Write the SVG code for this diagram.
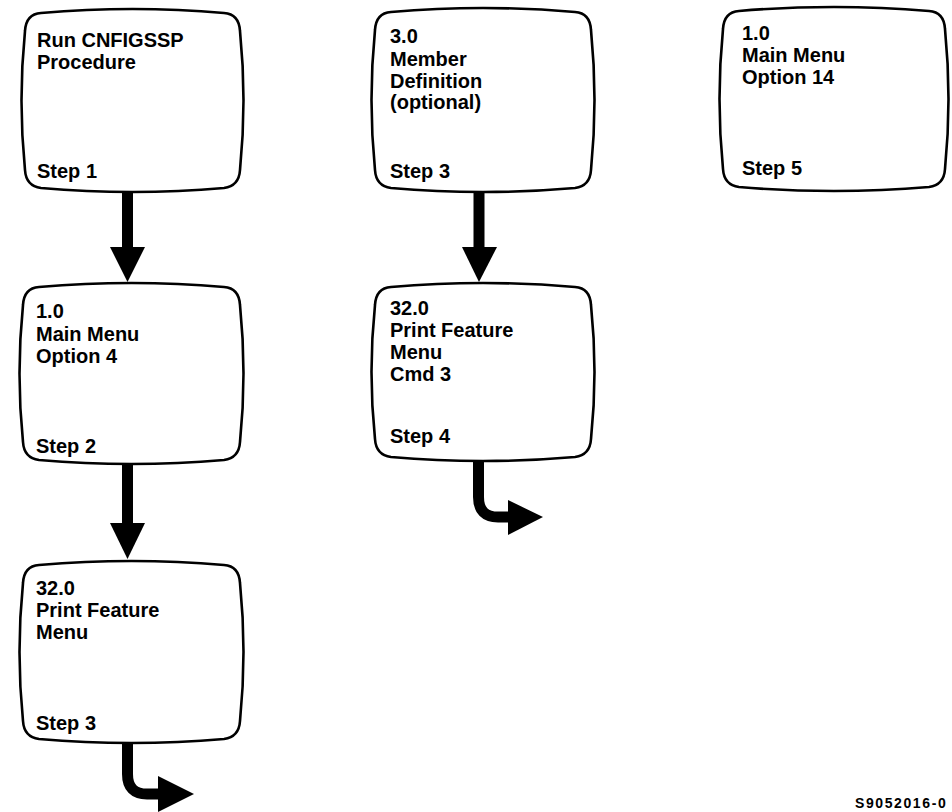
<svg xmlns="http://www.w3.org/2000/svg" width="952" height="812" viewBox="0 0 952 812">
<defs>
<style>
.box{fill:#fff;stroke:#000;stroke-width:2.6;stroke-linejoin:round}
.t{font-family:"Liberation Sans",Arial,Helvetica,sans-serif;font-size:20px;font-weight:bold;fill:#000}
.sh{fill:none;stroke:#000;stroke-width:11}
.hd{fill:#000}
</style>
</defs>
<rect width="952" height="812" fill="#fff"/>
<g id="connectors">
<rect class="hd" x="122" y="192" width="11" height="57"/>
<polygon class="hd" points="110,247 145,247 127.5,282"/>
<rect class="hd" x="122" y="464" width="11" height="61"/>
<polygon class="hd" points="110,523 145,523 127.5,559"/>
<rect class="hd" x="473.5" y="192" width="11" height="57"/>
<polygon class="hd" points="462,247 497,247 479,282"/>
<path class="sh" d="M127.5,743 V774 Q127.5,794 147,794 H160"/>
<polygon class="hd" points="158,776 158,812 194,794"/>
<path class="sh" d="M478.5,460 V497 Q478.5,517 498,517 H510"/>
<polygon class="hd" points="508,500 508,535 543,517"/>
</g>
<g id="step1">
<path class="box" d="M41,13 Q132.5,5 224,13 Q239,14 240,31 Q247,100.5 240,170 Q239,186 224,188 Q132.5,196 41,188 Q26,186 25,170 Q18,100.5 25,31 Q26,14 41,13 Z"/>
<text class="t" x="37" y="47">Run CNFIGSSP</text>
<text class="t" x="37" y="69">Procedure</text>
<text class="t" x="37" y="178">Step 1</text>
</g>
<g id="step2">
<path class="box" d="M39,287 Q131.5,279 224,287 Q239,288 240,305 Q247,373.5 240,442 Q239,458 224,460 Q131.5,468 39,460 Q24,458 23,442 Q16,373.5 23,305 Q24,288 39,287 Z"/>
<text class="t" x="36" y="318">1.0</text>
<text class="t" x="36" y="341">Main Menu</text>
<text class="t" x="36" y="363">Option 4</text>
<text class="t" x="36" y="453">Step 2</text>
</g>
<g id="step3a">
<path class="box" d="M39,565 Q131.5,557 224,565 Q239,566 240,583 Q247,652 240,721 Q239,737 224,739 Q131.5,747 39,739 Q24,737 23,721 Q16,652 23,583 Q24,566 39,565 Z"/>
<text class="t" x="36" y="595">32.0</text>
<text class="t" x="36" y="617">Print Feature</text>
<text class="t" x="36" y="639">Menu</text>
<text class="t" x="36" y="730">Step 3</text>
</g>
<g id="step3b">
<path class="box" d="M391,12 Q483,4 575,12 Q590,13 591,30 Q598,100 591,170 Q590,186 575,188 Q483,196 391,188 Q376,186 375,170 Q368,100 375,30 Q376,13 391,12 Z"/>
<text class="t" x="390" y="43">3.0</text>
<text class="t" x="390" y="66">Member</text>
<text class="t" x="390" y="88">Definition</text>
<text class="t" x="390" y="109">(optional)</text>
<text class="t" x="390" y="178">Step 3</text>
</g>
<g id="step4">
<path class="box" d="M391,287 Q483,279 575,287 Q590,288 591,305 Q598,372 591,439 Q590,455 575,457 Q483,465 391,457 Q376,455 375,439 Q368,372 375,305 Q376,288 391,287 Z"/>
<text class="t" x="390" y="315">32.0</text>
<text class="t" x="390" y="337">Print Feature</text>
<text class="t" x="390" y="359">Menu</text>
<text class="t" x="390" y="381">Cmd 3</text>
<text class="t" x="390" y="443">Step 4</text>
</g>
<g id="step5">
<path class="box" d="M739,11 Q834,3 929,11 Q944,12 945,29 Q952,99 945,169 Q944,185 929,187 Q834,195 739,187 Q724,185 723,169 Q716,99 723,29 Q724,12 739,11 Z"/>
<text class="t" x="742" y="40">1.0</text>
<text class="t" x="742" y="62">Main Menu</text>
<text class="t" x="742" y="84">Option 14</text>
<text class="t" x="742" y="175">Step 5</text>
</g>
<text x="855" y="808" font-family="'Liberation Sans',Arial,sans-serif" font-size="14" font-weight="bold" letter-spacing="1.6">S9052016-0</text>
</svg>
